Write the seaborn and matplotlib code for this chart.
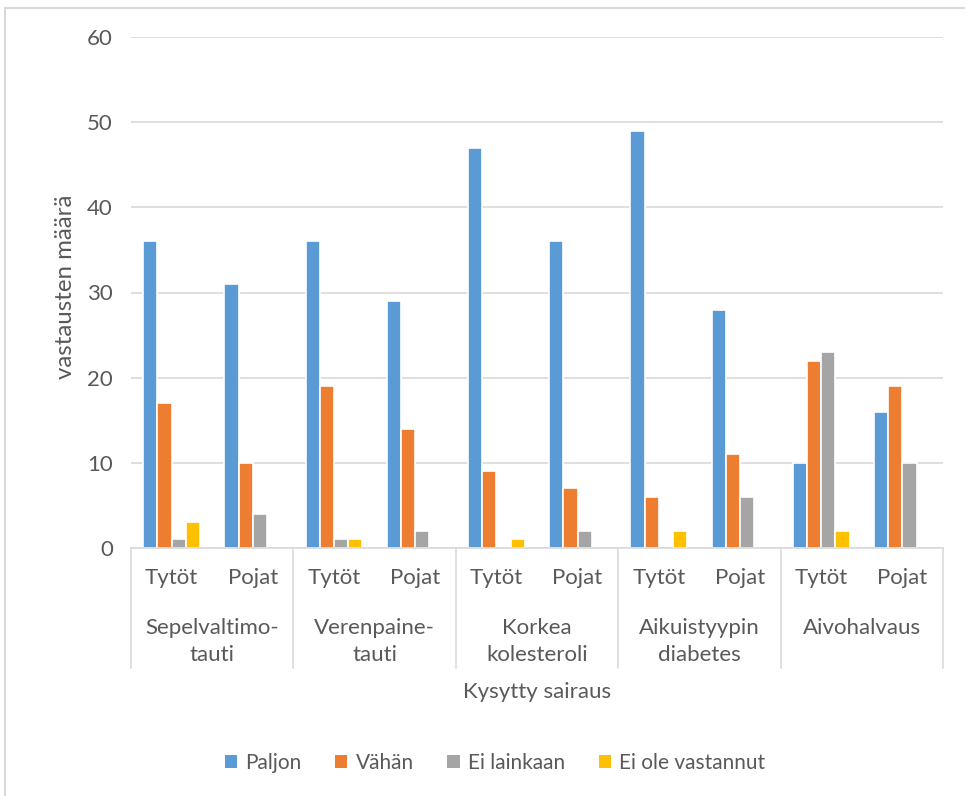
import matplotlib
matplotlib.use("Agg")
import matplotlib.pyplot as plt
from matplotlib.patches import Rectangle, Patch
from matplotlib.lines import Line2D
import seaborn as sns
import pandas as pd

# Survey answers per disease and gender
diseases = ["Sepelvaltimo-\ntauti", "Verenpaine-\ntauti", "Korkea\nkolesteroli",
            "Aikuistyypin\ndiabetes", "Aivohalvaus"]
genders = ["Tytöt", "Pojat"]
series = ["Paljon", "Vähän", "Ei lainkaan", "Ei ole vastannut"]

paljon = [36, 31, 36, 29, 47, 36, 49, 28, 10, 16]
vahan = [17, 10, 19, 14, 9, 7, 6, 11, 22, 19]
ei_lainkaan = [1, 4, 1, 2, 0, 2, 0, 6, 23, 10]
ei_vastannut = [3, 0, 1, 0, 1, 0, 2, 0, 2, 0]

colors = ["#5B9BD5", "#ED7D31", "#A5A5A5", "#FFC000"]
text_color = "#595959"
grid_color = "#D9D9D9"

keys = [f"{d}|{g}" for d in diseases for g in genders]
rows = []
for name, vals in zip(series, [paljon, vahan, ei_lainkaan, ei_vastannut]):
    for k, v in zip(keys, vals):
        rows.append({"ryhmä": k, "vastaus": name, "määrä": v})
df = pd.DataFrame(rows)

sns.set_theme(style="white")
plt.rcParams["font.family"] = ["Lato", "DejaVu Sans"]

W, H = 965, 796
fig = plt.figure(figsize=(W / 100, H / 100), dpi=100)
ax = fig.add_axes([131 / W, 1 - 548 / H, (943 - 131) / W, (548 - 37) / H])

sns.barplot(data=df, x="ryhmä", y="määrä", hue="vastaus", order=keys,
            hue_order=series, palette=colors, width=0.70, saturation=1,
            edgecolor="white", linewidth=1.2, legend=False, ax=ax)
for p in ax.patches:
    if p.get_height() == 0:
        p.set_linewidth(0)

ax.set_xlim(-0.5, len(keys) - 0.5)
ax.set_ylim(0, 60)
ax.set_yticks(range(0, 61, 10))
ax.yaxis.grid(True, color=grid_color, linewidth=1.2)
ax.set_axisbelow(True)
for s in ["top", "right", "left"]:
    ax.spines[s].set_visible(False)
ax.spines["bottom"].set_color(grid_color)
ax.spines["bottom"].set_linewidth(1.2)
ax.tick_params(axis="y", length=0, pad=13, labelsize=16, labelcolor=text_color)
ax.tick_params(axis="x", length=0)
ax.set_xticks(range(len(keys)))
ax.set_xticklabels([])
ax.set_xlabel("")
ax.set_ylabel("")

ah = 548 - 37
tr = ax.get_xaxis_transform()
# Gender labels under each bar group
for i, k in enumerate(keys):
    ax.text(i, -30 / ah, k.split("|")[1], transform=tr, ha="center", va="center",
            fontsize=16, color=text_color)
# Disease labels under each pair of groups
for j, d in enumerate(diseases):
    ax.text(2 * j + 0.5, -(618 - 548) / ah, d, transform=tr, ha="center",
            va="top", fontsize=16, color=text_color, linespacing=1.45)
# Category separators
for xb in [-0.5 + 2 * j for j in range(len(diseases) + 1)]:
    ax.add_line(Line2D([xb, xb], [0, -(668 - 548) / ah], transform=tr,
                       color=grid_color, linewidth=1.2, clip_on=False))

fig.text(537 / W, 1 - 692 / H, "Kysytty sairaus", ha="center", va="center",
         fontsize=16, color=text_color)
fig.text(65 / W, 1 - 287 / H, "vastausten määrä", ha="center", va="center",
         rotation=90, fontsize=17.3, color=text_color)

handles = [Patch(facecolor=c, edgecolor="none") for c in colors]
fig.legend(handles, series, loc="center", bbox_to_anchor=(495 / W, 1 - 763 / H),
           ncol=4, frameon=False, fontsize=15, labelcolor=text_color,
           handlelength=0.6, handleheight=0.6, handletextpad=0.4,
           columnspacing=1.6)

# Chart border
fig.add_artist(Rectangle((5 / W, -0.05), 1.2, 1.05 - 8 / H, transform=fig.transFigure,
                         fill=False, edgecolor=grid_color, linewidth=1.5))

fig.savefig("out.png", dpi=100, facecolor="white")
